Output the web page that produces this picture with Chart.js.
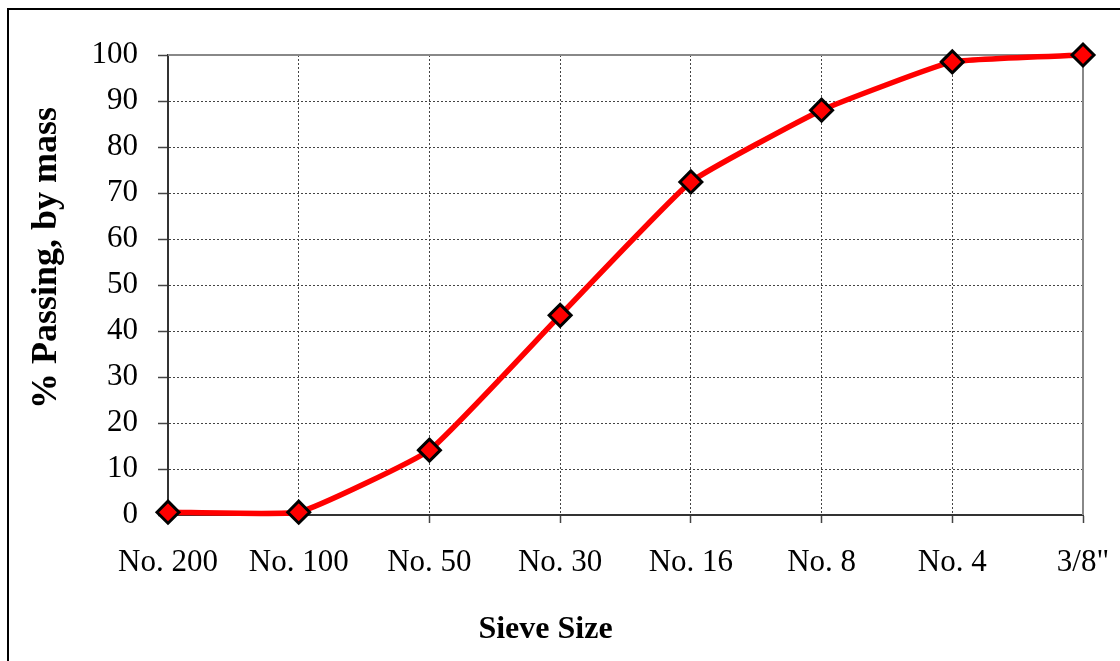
<!DOCTYPE html>
<html>
<head>
<meta charset="utf-8">
<script src="https://cdn.jsdelivr.net/npm/chart.js@4/dist/chart.umd.min.js"></script>
<style>
  html, body { margin: 0; padding: 0; background: #fff; overflow: hidden; }
  #wrap { width: 1120px; height: 661px; position: relative; }
</style>
</head>
<body>
<div id="wrap"><canvas id="myChart" width="1120" height="661"></canvas></div>
<script>
const sieveSizes = ['No. 200', 'No. 100', 'No. 50', 'No. 30', 'No. 16', 'No. 8', 'No. 4', '3/8"'];
const percentPassing = [0.6, 0.6, 14.1, 43.4, 72.4, 88.0, 98.5, 100];
const yTicks = [0, 10, 20, 30, 40, 50, 60, 70, 80, 90, 100];

// outer frame + top/right plot border, like the Excel chart
const framePlugin = {
    id: 'frame',
    beforeDraw(chart) {
        const ctx = chart.ctx;
        ctx.save();
        ctx.fillStyle = '#fff';
        ctx.fillRect(0, 0, chart.width, chart.height);
        ctx.strokeStyle = '#000';
        ctx.lineWidth = 2;
        ctx.beginPath();
        ctx.moveTo(8, chart.height + 5);
        ctx.lineTo(8, 9);
        ctx.lineTo(chart.width + 5, 9);
        ctx.stroke();
        ctx.restore();
    },
    beforeDatasetsDraw(chart) {
        const {ctx, chartArea} = chart;
        ctx.save();
        ctx.strokeStyle = '#888';
        ctx.lineWidth = 2;
        ctx.beginPath();
        ctx.moveTo(chartArea.left, chartArea.top);
        ctx.lineTo(chartArea.right, chartArea.top);
        ctx.lineTo(chartArea.right, chartArea.bottom);
        ctx.stroke();
        ctx.restore();
    }
};

const ctx = document.getElementById('myChart').getContext('2d');
const myChart = new Chart(ctx, {
    type: 'line',
    data: {
        labels: sieveSizes,
        datasets: [{
            data: percentPassing,
            borderColor: '#ff0000',
            borderWidth: 5.5,
            tension: 0.12,
            pointStyle: 'rectRot',
            pointRadius: 11,
            pointBorderWidth: 3,
            pointBackgroundColor: '#ff0000',
            pointBorderColor: '#000',
            clip: false
        }]
    },
    options: {
        animation: false,
        responsive: false,
        devicePixelRatio: 1,
        layout: { padding: { top: 55, right: 37, left: 0, bottom: 0 } },
        plugins: {
            legend: { display: false },
            tooltip: { enabled: false }
        },
        scales: {
            x: {
                offset: false,
                afterFit: (scale) => {
                    scale.height = 146;
                    scale.paddingLeft = 0;
                    scale.paddingRight = 0;
                },
                grid: {
                    color: '#444',
                    lineWidth: 1,
                    tickColor: '#444',
                    tickLength: 8,
                    tickWidth: 1.5
                },
                border: { color: '#333', width: 2, dash: [2, 2] },
                ticks: {
                    color: '#000',
                    padding: 21,
                    maxRotation: 0,
                    autoSkip: false,
                    font: { family: 'Liberation Serif', size: 31 }
                },
                title: {
                    display: true,
                    // trailing spaces push the title left, it sits off-centre in the reference
                    text: 'Sieve Size' + '\u00a0'.repeat(20),
                    color: '#000',
                    padding: { top: 0, bottom: 12 },
                    font: { family: 'Liberation Serif', size: 32, weight: 'bold' }
                }
            },
            y: {
                min: 0,
                max: 100,
                afterFit: (scale) => { scale.width = 168; },
                afterBuildTicks: (scale) => { scale.ticks = yTicks.map(v => ({ value: v })); },
                grid: {
                    color: '#444',
                    lineWidth: 1,
                    tickColor: '#444',
                    tickLength: 10,
                    tickWidth: 1.5
                },
                border: { color: '#333', width: 2, dash: [2, 2] },
                ticks: {
                    color: '#000',
                    padding: 20,
                    font: { family: 'Liberation Serif', size: 31 }
                },
                title: {
                    display: true,
                    // leading spaces nudge the rotated title upward, as in the reference
                    text: '\u00a0\u00a0\u00a0\u00a0\u00a0\u00a0% Passing, by mass',
                    color: '#000',
                    padding: { top: 25, bottom: 0 },
                    font: { family: 'Liberation Serif', size: 36, weight: 'bold' }
                }
            }
        }
    },
    plugins: [framePlugin]
});
</script>
</body>
</html>
